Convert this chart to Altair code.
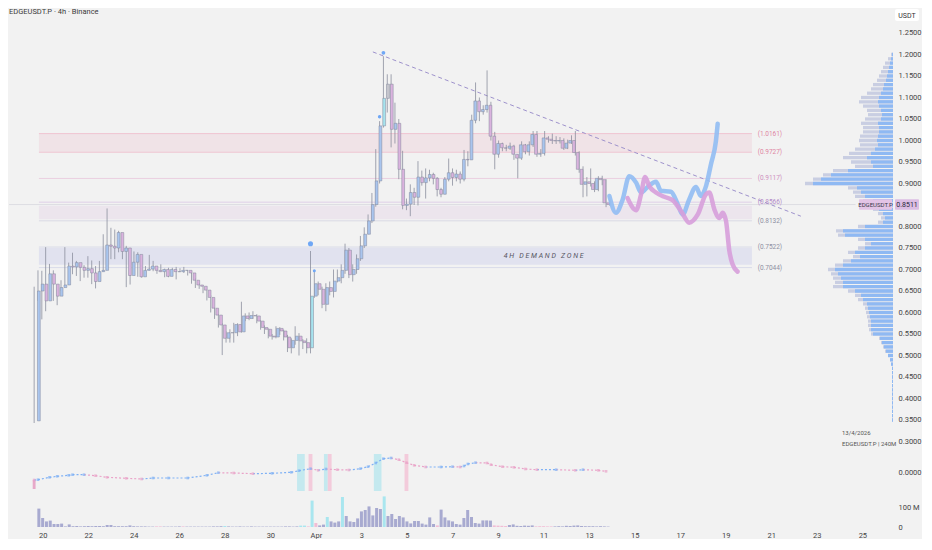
import altair as alt
import pandas as pd

# ---------------- data ----------------
first_open = 0.348
close = [0.650, 0.666, 0.627, 0.690, 0.666, 0.638, 0.658, 0.664, 0.708, 0.706,
         0.716, 0.705, 0.698, 0.702, 0.692, 0.672, 0.695, 0.698, 0.757, 0.754,
         0.750, 0.786, 0.742, 0.750, 0.686, 0.717, 0.735, 0.683, 0.698, 0.701,
         0.708, 0.698, 0.695, 0.700, 0.684, 0.700, 0.695, 0.695, 0.698, 0.698,
         0.692, 0.675, 0.664, 0.661, 0.652, 0.635, 0.610, 0.594, 0.571, 0.540,
         0.553, 0.553, 0.572, 0.555, 0.592, 0.586, 0.593, 0.592, 0.580, 0.565,
         0.561, 0.545, 0.543, 0.563, 0.557, 0.543, 0.518, 0.535, 0.545, 0.534,
         0.530, 0.518, 0.638, 0.667, 0.654, 0.619, 0.658, 0.649, 0.673, 0.681,
         0.698, 0.745, 0.688, 0.700, 0.725, 0.755, 0.782, 0.813, 0.851, 0.906,
         1.034, 1.098, 1.131, 1.026, 1.040, 0.933, 0.849, 0.852, 0.879, 0.868,
         0.915, 0.902, 0.913, 0.921, 0.912, 0.886, 0.875, 0.910, 0.925, 0.914,
         0.922, 0.910, 0.956, 0.955, 1.047, 1.092, 1.067, 1.072, 1.082, 1.010,
         0.968, 0.993, 0.983, 0.982, 0.987, 0.968, 0.959, 0.990, 0.974, 0.990,
         1.014, 0.968, 0.970, 1.006, 1.003, 1.000, 0.999, 1.000, 0.982, 0.994,
         1.000, 0.972, 0.933, 0.898, 0.904, 0.900, 0.886, 0.912, 0.909, 0.855, 0.851]
high = [0.660, 0.698, 0.697, 0.752, 0.713, 0.698, 0.665, 0.675, 0.752, 0.716,
        0.739, 0.720, 0.712, 0.710, 0.731, 0.721, 0.708, 0.720, 0.782, 0.842,
        0.797, 0.793, 0.790, 0.766, 0.755, 0.721, 0.742, 0.740, 0.708, 0.708,
        0.734, 0.720, 0.700, 0.712, 0.702, 0.704, 0.704, 0.706, 0.703, 0.706,
        0.698, 0.692, 0.680, 0.668, 0.660, 0.642, 0.640, 0.612, 0.596, 0.575,
        0.556, 0.561, 0.576, 0.575, 0.625, 0.598, 0.600, 0.603, 0.596, 0.582,
        0.570, 0.563, 0.550, 0.568, 0.566, 0.560, 0.548, 0.540, 0.568, 0.552,
        0.538, 0.540, 0.743, 0.696, 0.672, 0.660, 0.668, 0.672, 0.700, 0.700,
        0.712, 0.760, 0.750, 0.712, 0.735, 0.778, 0.798, 0.828, 0.878, 0.980,
        1.045, 1.196, 1.154, 1.154, 1.088, 1.050, 0.976, 0.865, 0.898, 0.890,
        0.952, 0.930, 0.935, 0.932, 0.925, 0.915, 0.890, 0.915, 0.958, 0.935,
        0.932, 0.928, 0.978, 0.975, 1.060, 1.135, 1.100, 1.082, 1.163, 1.090,
        1.020, 1.000, 0.995, 0.990, 0.995, 0.990, 0.968, 0.998, 0.992, 0.998,
        1.022, 1.022, 0.980, 1.022, 1.010, 1.016, 1.010, 1.008, 1.005, 1.002,
        1.012, 1.022, 0.975, 0.940, 0.915, 0.935, 0.905, 0.917, 0.918, 0.910, 0.862]
low = [0.343, 0.627, 0.584, 0.603, 0.654, 0.627, 0.617, 0.650, 0.665, 0.677,
       0.689, 0.685, 0.673, 0.681, 0.681, 0.666, 0.656, 0.688, 0.695, 0.750,
       0.724, 0.724, 0.740, 0.724, 0.659, 0.665, 0.715, 0.683, 0.681, 0.696,
       0.698, 0.696, 0.690, 0.694, 0.682, 0.682, 0.690, 0.677, 0.694, 0.692,
       0.686, 0.667, 0.657, 0.655, 0.645, 0.628, 0.600, 0.585, 0.565, 0.501,
       0.530, 0.530, 0.530, 0.545, 0.553, 0.580, 0.582, 0.585, 0.575, 0.560,
       0.550, 0.540, 0.537, 0.540, 0.548, 0.535, 0.508, 0.505, 0.525, 0.500,
       0.515, 0.505, 0.505, 0.634, 0.640, 0.610, 0.603, 0.640, 0.635, 0.670,
       0.668, 0.690, 0.680, 0.672, 0.690, 0.720, 0.750, 0.790, 0.808, 0.846,
       0.900, 1.030, 1.065, 0.984, 0.993, 0.910, 0.840, 0.838, 0.824, 0.850,
       0.849, 0.895, 0.865, 0.905, 0.898, 0.870, 0.868, 0.875, 0.905, 0.895,
       0.905, 0.900, 0.905, 0.940, 0.955, 1.040, 1.045, 1.060, 1.065, 1.000,
       0.933, 0.960, 0.975, 0.975, 0.978, 0.955, 0.912, 0.955, 0.968, 0.965,
       0.985, 0.962, 0.962, 0.965, 0.995, 0.992, 0.992, 0.993, 0.978, 0.980,
       0.992, 0.965, 0.925, 0.868, 0.870, 0.893, 0.880, 0.882, 0.896, 0.845, 0.848]
volume = [92, 45, 28, 32, 15, 15, 17, 3, 13, 4,
          5, 3, 4, 5, 4, 5, 5, 4, 10, 10,
          4, 4, 4, 4, 8, 4, 3, 3, 3, 2,
          2, 3, 3, 2, 2, 2, 2, 3, 3, 2,
          2, 2, 2, 2, 2, 2, 3, 3, 4, 5,
          3, 2, 2, 3, 2, 2, 3, 2, 2, 2,
          2, 2, 2, 2, 2, 3, 3, 2, 3, 7,
          7, 3, 132, 20, 8, 12, 50, 28, 22, 28,
          150, 55, 28, 25, 43, 78, 85, 103, 58, 95,
          90, 153, 55, 65, 40, 55, 48, 28, 18, 30,
          30, 17, 12, 48, 15, 8, 87, 48, 33, 28,
          15, 12, 45, 85, 50, 20, 17, 33, 33, 32,
          8, 7, 6, 5, 10, 13, 6, 5, 7, 6,
          8, 3, 4, 4, 3, 3, 3, 4, 3, 6,
          5, 7, 8, 5, 4, 4, 4, 3, 4, 3, 2]
vol_cyan = [49, 69, 70, 72, 76, 80, 91]
vol_pink = [31, 32, 38, 71, 73, 105, 120, 121, 122, 123, 131, 132, 133, 134, 135]
candle_cyan = [72, 91]
candle_gray = [92]

levels = [1.0161, 0.9727, 0.9117, 0.8566, 0.8132, 0.7522, 0.7044]
level_labels = ["(1.0161)", "(0.9727)", "(0.9117)", "(0.8566)", "(0.8132)", "(0.7522)", "(0.7044)"]
level_line_colors = ["#efbccb", "#efbccb", "#e9c7dc", "#d9c8e4", "#d3d3e2", "#d0d3e6", "#d0d3e6"]
level_text_colors = ["#df85a3", "#df85a3", "#cf8fc0", "#b28ac8", "#8f8fa2", "#8f8fa2", "#8f8fa2"]

zone_lo = [0.9727, 0.817, 0.711]
zone_hi = [1.0161, 0.848, 0.750]
zone_colors = ["#f0e3e7", "#ece5ed", "#e1e2ef"]

trend_t = ["2026-04-03 13:00", "2026-04-22 03:00"]
trend_p = [1.206, 0.824]

blue_t = ["2026-04-13 19:30", "2026-04-14 02:20", "2026-04-14 09:20", "2026-04-14 16:10",
          "2026-04-14 23:20", "2026-04-15 04:30", "2026-04-15 11:20", "2026-04-15 20:00",
          "2026-04-16 01:10", "2026-04-16 11:40", "2026-04-16 18:40", "2026-04-16 23:50",
          "2026-04-17 06:40", "2026-04-17 13:40", "2026-04-17 18:50", "2026-04-18 00:10",
          "2026-04-18 05:20", "2026-04-18 10:30", "2026-04-18 12:20"]
blue_p = [0.871, 0.832, 0.863, 0.917, 0.902, 0.879, 0.892, 0.904, 0.883, 0.881,
          0.852, 0.828, 0.863, 0.892, 0.871, 0.894, 0.945, 0.999, 1.039]
pink_t = ["2026-04-14 14:25", "2026-04-14 23:15", "2026-04-15 04:30", "2026-04-15 08:40",
          "2026-04-15 13:00", "2026-04-15 20:00", "2026-04-16 04:40", "2026-04-16 13:30",
          "2026-04-16 22:10", "2026-04-17 06:40", "2026-04-17 15:35", "2026-04-18 00:10",
          "2026-04-18 03:35", "2026-04-18 08:50", "2026-04-18 14:00", "2026-04-18 17:30",
          "2026-04-18 21:00", "2026-04-19 00:30", "2026-04-19 03:50", "2026-04-19 09:00"]
pink_p = [0.866, 0.838, 0.875, 0.915, 0.894, 0.879, 0.869, 0.861, 0.836, 0.809,
          0.828, 0.875, 0.879, 0.840, 0.820, 0.832, 0.813, 0.743, 0.712, 0.695]

dot_idx = [72, 73, 90, 91]
dot_p = [0.760, 0.697, 1.055, 1.204]
dot_size = [26, 9, 12, 14]

ind_idx = [0, 1, 4, 6, 9, 10, 13, 16, 19, 24, 28, 31, 35, 40, 45, 48, 52, 57, 62, 67,
           69, 72, 74, 76, 79, 82, 85, 87, 89, 91, 93, 95, 97, 99, 102, 106, 109, 111,
           112, 113, 115, 118, 119, 122, 125, 128, 131, 136, 141, 143, 147, 149]
ind_val = [-8, -7.7, -5.3, -4.3, -3.3, -2.7, -2.7, -3.7, -5.3, -6.3, -7, -6, -6, -6,
           -3.3, -0.7, -1, -1.7, -1.3, -0.3, 1.3, 3.3, 1.7, 3, 2.3, 2, 3.3, 5.3, 9,
           13.3, 14, 12.3, 9.3, 6.7, 5, 5, 5.3, 5, 6, 8, 9.3, 9, 7.3, 5.3, 4.7, 3,
           2.3, 2.3, 1.7, 2.3, 1.7, 0.7]
band_from = [69, 72, 76, 77, 89, 97]
band_to = [70, 72, 76, 77, 90, 97]
band_kind = ["c", "p", "c", "p", "c", "p"]

prof_price = [round(0.35 + 0.01 * i, 2) for i in range(86)]
prof_total = [1] * 13 + [2, 3, 5, 8, 10, 12, 14, 22, 24, 25, 25, 26, 27, 28, 30, 35, 38, 45,
              60, 58, 60, 62, 65, 58, 50, 40, 45, 35, 28, 35, 55, 57, 35, 15, 12, 15, 20,
              25, 30, 38, 40, 45, 88, 80, 70, 60, 38, 42, 50, 44, 38, 33, 34, 33, 30, 30,
              32, 28, 25, 26, 30, 34, 32, 26, 22, 20, 16, 14, 12, 10, 8, 5, 2]
prof_blue = [1] * 13 + [2, 3, 5, 7, 9, 11, 13, 20, 22, 22, 22, 23, 24, 25, 26, 30, 32, 38,
             50, 50, 52, 55, 58, 50, 42, 33, 38, 28, 22, 28, 48, 50, 28, 10, 8, 10, 14,
             16, 20, 28, 32, 36, 80, 72, 62, 45, 20, 22, 26, 22, 18, 15, 16, 15, 14, 14,
             15, 12, 11, 12, 14, 15, 14, 12, 10, 9, 7, 6, 5, 4, 3, 2, 1]

last_price = 0.8511

# ---------------- helpers ----------------
T_FIRST = pd.Timestamp("2026-03-19 20:00")
BASE = pd.Timestamp("2026-03-20 00:00")
W = 884
PX_PER_H = 23.03 / 24.0
X_START = BASE - pd.Timedelta(hours=30.2)
X_END = X_START + pd.Timedelta(hours=W / PX_PER_H)


def tstr(ts):
    return pd.Timestamp(ts).strftime("%Y-%m-%dT%H:%M:%SZ")


def ms(ts):
    return int(pd.Timestamp(ts).value // 10**6)


def ctime(i, dh=0.0):
    return tstr(T_FIRST + pd.Timedelta(hours=4 * i + dh))


FONT = "Roboto"
BG = "#f2f2f2"
H_PRICE, H_IND, H_VOL = 441, 48, 30
P_TOP, P_BOT = 1.30581, 1.30581 - H_PRICE / 430.0

xs = alt.Scale(type="utc", domain=[ms(X_START), ms(X_END)])
ys = alt.Scale(domain=[P_BOT, P_TOP], nice=False, zero=False)
price_ticks = [round(0.30 + 0.05 * k, 2) for k in range(20)]
price_ticks = [v for v in price_ticks if abs(v - 0.85) > 1e-9]
price_axis = alt.Axis(orient="right", values=price_ticks,
                      format=".4f", labelFontSize=7.5, labelColor="#444", labelFont=FONT,
                      ticks=False, domain=False, grid=False, labelPadding=5, title=None)


def X(f):
    return alt.X(f, type="temporal", scale=xs, axis=None, title=None)


def Y(f):
    return alt.Y(f, type="quantitative", scale=ys, axis=price_axis, title=None)


# ---------------- price panel ----------------
UP, DOWN, CYAN, GRAY = "#a9c5ee", "#dab3de", "#a6e3ee", "#c8c8d0"
rows = []
prev = first_open
for i, c in enumerate(close):
    o = prev
    fill = CYAN if i in candle_cyan else GRAY if i in candle_gray else (UP if c >= o else DOWN)
    rows.append(dict(t=ctime(i), o=o, c=c, h=max(high[i], o, c), l=min(low[i], o, c), fill=fill))
    prev = c
candles = pd.DataFrame(rows)

zones = pd.DataFrame(dict(t1=tstr("2026-03-20 01:00"), t2=tstr("2026-04-20 00:00"),
                          lo=zone_lo, hi=zone_hi, col=zone_colors))
lv = pd.DataFrame(dict(t1=tstr("2026-03-20 01:00"), t2=tstr("2026-04-20 00:00"),
                       tl=tstr("2026-04-20 06:00"), p=levels, lab=level_labels,
                       lc=level_line_colors, tc=level_text_colors))
cur = pd.DataFrame(dict(t1=[tstr(X_START)], t2=[tstr("2026-04-24 12:00")], p=[last_price]))
trend = pd.DataFrame(dict(t=[tstr(t) for t in trend_t], p=trend_p))
blue = pd.DataFrame(dict(t=[tstr(t) for t in blue_t], p=blue_p))
pink = pd.DataFrame(dict(t=[tstr(t) for t in pink_t], p=pink_p))
dots = pd.DataFrame(dict(t=[ctime(i) for i in dot_idx], p=dot_p, s=dot_size))
NB = "\u00a0"
demand = pd.DataFrame(dict(t=[tstr("2026-04-10 23:00")], p=[0.7305],
                           txt=[(NB * 3).join([NB.join("4H"), NB.join("DEMAND"), NB.join("ZONE")])]))
prof = pd.DataFrame(dict(lo=[p - 0.0038 for p in prof_price], hi=[p + 0.0038 for p in prof_price],
                         tot=prof_total, blu=prof_blue, z=0))
one = pd.DataFrame(dict(a=[0]))

# volume-profile scale: 1 unit = 1 px, anchored at the right edge of the plot
pxs = alt.Scale(domain=[0, W], reverse=True)

layers = [
    alt.Chart(zones).mark_rect().encode(x=X("t1"), x2="t2", y=Y("lo"), y2="hi",
                                        color=alt.Color("col:N", scale=None)),
    alt.Chart(lv).mark_rule(strokeWidth=0.8).encode(x=X("t1"), x2="t2", y=Y("p"),
                                                    color=alt.Color("lc:N", scale=None)),
    alt.Chart(cur).mark_rule(strokeWidth=0.7, color="#d6d6dc").encode(x=X("t1"), x2="t2", y=Y("p")),
    alt.Chart(prof).mark_rect(color="#c9cee2").encode(
        x=alt.X("tot:Q", scale=pxs, axis=None, title=None), x2="z", y=Y("lo"), y2="hi"),
    alt.Chart(prof).mark_rect(color="#8fb9f3").encode(
        x=alt.X("blu:Q", scale=pxs, axis=None, title=None), x2="z", y=Y("lo"), y2="hi"),
    alt.Chart(trend).mark_line(strokeDash=[4, 3], color="#9e92cc", strokeWidth=1).encode(
        x=X("t"), y=Y("p")),
    alt.Chart(candles).mark_rule(color="#8a8e9d", strokeWidth=0.8).encode(
        x=X("t"), y=Y("l"), y2="h"),
    alt.Chart(candles).mark_bar(size=2.8, stroke="#80869a", strokeWidth=0.5).encode(
        x=X("t"), y=Y("o"), y2="c", fill=alt.Fill("fill:N", scale=None)),
    alt.Chart(dots).mark_circle(color="#6fa7f5", opacity=1).encode(
        x=X("t"), y=Y("p"), size=alt.Size("s:Q", scale=None)),
    alt.Chart(blue).mark_line(strokeWidth=4.5, strokeCap="round", strokeJoin="round",
                              interpolate="monotone", color="#91bdf3", opacity=0.9).encode(
        x=X("t"), y=Y("p")),
    alt.Chart(pink).mark_line(strokeWidth=4.5, strokeCap="round", strokeJoin="round",
                              interpolate="monotone", color="#d79fda", opacity=0.9).encode(
        x=X("t"), y=Y("p")),
    alt.Chart(lv).mark_text(align="left", baseline="middle", fontSize=6.5, font=FONT).encode(
        x=X("tl"), y=Y("p"), text="lab:N", color=alt.Color("tc:N", scale=None)),
    alt.Chart(demand).mark_text(align="center", baseline="middle", fontSize=7, font=FONT,
                                fontStyle="italic", color="#55555f").encode(
        x=X("t"), y=Y("p"), text="txt:N"),
    # price tag boxes
    alt.Chart(one).transform_calculate(a2=str(last_price + 0.012), a3=str(last_price - 0.012)
                                       ).mark_rect(color="#e3c4e6", cornerRadius=1).encode(
        x=alt.value(850), x2=alt.value(883), y=Y("a2:Q"), y2="a3:Q"),
    alt.Chart(one).transform_calculate(a2=str(last_price)).mark_text(
        align="center", baseline="middle", fontSize=6, font=FONT, color="#3a3a4a").encode(
        x=alt.value(866.5), y=Y("a2:Q"), text=alt.value("EDGEUSDT.P")),
    alt.Chart(one).transform_calculate(a2=str(last_price + 0.012), a3=str(last_price - 0.012)
                                       ).mark_rect(color="#dcbde3", cornerRadius=1).encode(
        x=alt.value(886), x2=alt.value(910), y=Y("a2:Q"), y2="a3:Q"),
    alt.Chart(one).transform_calculate(a2=str(last_price)).mark_text(
        align="center", baseline="middle", fontSize=7, font=FONT, color="#2a2a3a").encode(
        x=alt.value(898), y=Y("a2:Q"), text=alt.value("0.8511")),
    alt.Chart(one).mark_rect(color="#ffffff", cornerRadius=2).encode(
        x=alt.value(886), x2=alt.value(910), y=alt.value(0), y2=alt.value(12)),
    alt.Chart(one).mark_text(align="center", baseline="middle", fontSize=7, font=FONT,
                             color="#333").encode(
        x=alt.value(898), y=alt.value(6.5), text=alt.value("USDT")),
    alt.Chart(one).mark_text(align="left", baseline="middle", fontSize=7.5, font=FONT,
                             color="#3a3a3a").encode(
        x=alt.value(0), y=alt.value(3), text=alt.value("EDGEUSDT.P · 4h · Binance")),
    alt.Chart(one).mark_text(align="left", baseline="middle", fontSize=6, font=FONT,
                             color="#555").encode(
        x=alt.value(833), y=alt.value(424), text=alt.value("13/4/2026")),
    alt.Chart(one).mark_text(align="left", baseline="middle", fontSize=6, font=FONT,
                             color="#555").encode(
        x=alt.value(833), y=alt.value(435), text=alt.value("EDGEUSDT.P | 240M")),
]
price = alt.layer(*layers).resolve_scale(x="independent").properties(width=W, height=H_PRICE)

# ---------------- indicator panel ----------------
iys = alt.Scale(domain=[-26, 22], nice=False, zero=False)
iax = alt.Axis(orient="right", values=[0], labelExpr="'0.0000'", labelFontSize=7.5,
               labelColor="#444", labelFont=FONT, ticks=False, domain=False, grid=False,
               labelPadding=5, title=None)


def IY(f):
    return alt.Y(f, type="quantitative", scale=iys, axis=iax, title=None)


seg = []
for k in range(1, len(ind_idx)):
    v0, v1 = ind_val[k - 1], ind_val[k]
    seg.append(dict(t1=ctime(ind_idx[k - 1]), t2=ctime(ind_idx[k]), v0=v0, v1=v1,
                    col="#7fb1f5" if v1 >= v0 else "#eaa2c8"))
seg = pd.DataFrame(seg)
pts = pd.DataFrame(dict(t=[ctime(i) for i in ind_idx], v=ind_val,
                        col=["#eaa2c8"] + ["#7fb1f5" if ind_val[k] >= ind_val[k - 1] else "#eaa2c8"
                                           for k in range(1, len(ind_val))]))
bands = pd.DataFrame(dict(t1=[ctime(a, -2) for a in band_from], t2=[ctime(b, 2) for b in band_to],
                          lo=-19, hi=18,
                          col=["#c4e9ef" if k == "c" else "#f3cbdb" for k in band_kind]))
firstbox = pd.DataFrame(dict(t1=[ctime(0, -1.5)], t2=[ctime(0, 1.5)], lo=[-17], hi=[-8]))

ind = alt.layer(
    alt.Chart(bands).mark_rect().encode(x=X("t1"), x2="t2", y=IY("lo"), y2="hi",
                                        color=alt.Color("col:N", scale=None)),
    alt.Chart(firstbox).mark_rect(color="#e7a9c9").encode(x=X("t1"), x2="t2", y=IY("lo"), y2="hi"),
    alt.Chart(seg).mark_rule(strokeDash=[2, 2], strokeWidth=1.2).encode(
        x=X("t1"), x2="t2", y=IY("v0"), y2="v1", color=alt.Color("col:N", scale=None)),
    alt.Chart(pts).mark_square(size=7).encode(x=X("t"), y=IY("v"),
                                             color=alt.Color("col:N", scale=None)),
).properties(width=W, height=H_IND)

# ---------------- volume panel ----------------
vys = alt.Scale(domain=[-5, 145], nice=False, zero=False)
vax = alt.Axis(orient="right", values=[0, 100], labelExpr="datum.value == 0 ? '0' : '100 M'",
               labelFontSize=7.5, labelColor="#444", labelFont=FONT, ticks=False, domain=False,
               grid=False, labelPadding=5, title=None)
vdf = pd.DataFrame(dict(t=[ctime(i) for i in range(len(volume))], v=volume, z=0,
                        col=["#a9e6ef" if i in vol_cyan else "#f1bdd5" if i in vol_pink else "#a8aad0"
                             for i in range(len(volume))]))
day_ticks = [ms(pd.Timestamp("2026-03-20") + pd.Timedelta(days=2 * k)) for k in range(6)] + \
            [ms(pd.Timestamp("2026-04-01") + pd.Timedelta(days=2 * k)) for k in range(13)]
xax = alt.Axis(values=day_ticks, labelExpr="utcdate(datum.value) == 1 ? 'Apr' : '' + utcdate(datum.value)",
               labelFontSize=7.5, labelColor="#444", labelFont=FONT, ticks=False, domain=False,
               grid=False, labelPadding=3, labelFlush=False, title=None)
vol = alt.Chart(vdf).mark_bar(size=3.0).encode(
    x=alt.X("t", type="temporal", scale=xs, axis=xax, title=None),
    y=alt.Y("v", type="quantitative", scale=vys, axis=vax, title=None),
    y2="z",
    color=alt.Color("col:N", scale=None),
).properties(width=W, height=H_VOL)

chart = alt.vconcat(price, ind, vol, spacing=0, bounds="flush").resolve_scale(
    x="independent", y="independent"
).properties(background=BG, padding=0).configure_view(stroke=None)

chart.save("out.html", embed_options={"renderer": "svg", "actions": False})
